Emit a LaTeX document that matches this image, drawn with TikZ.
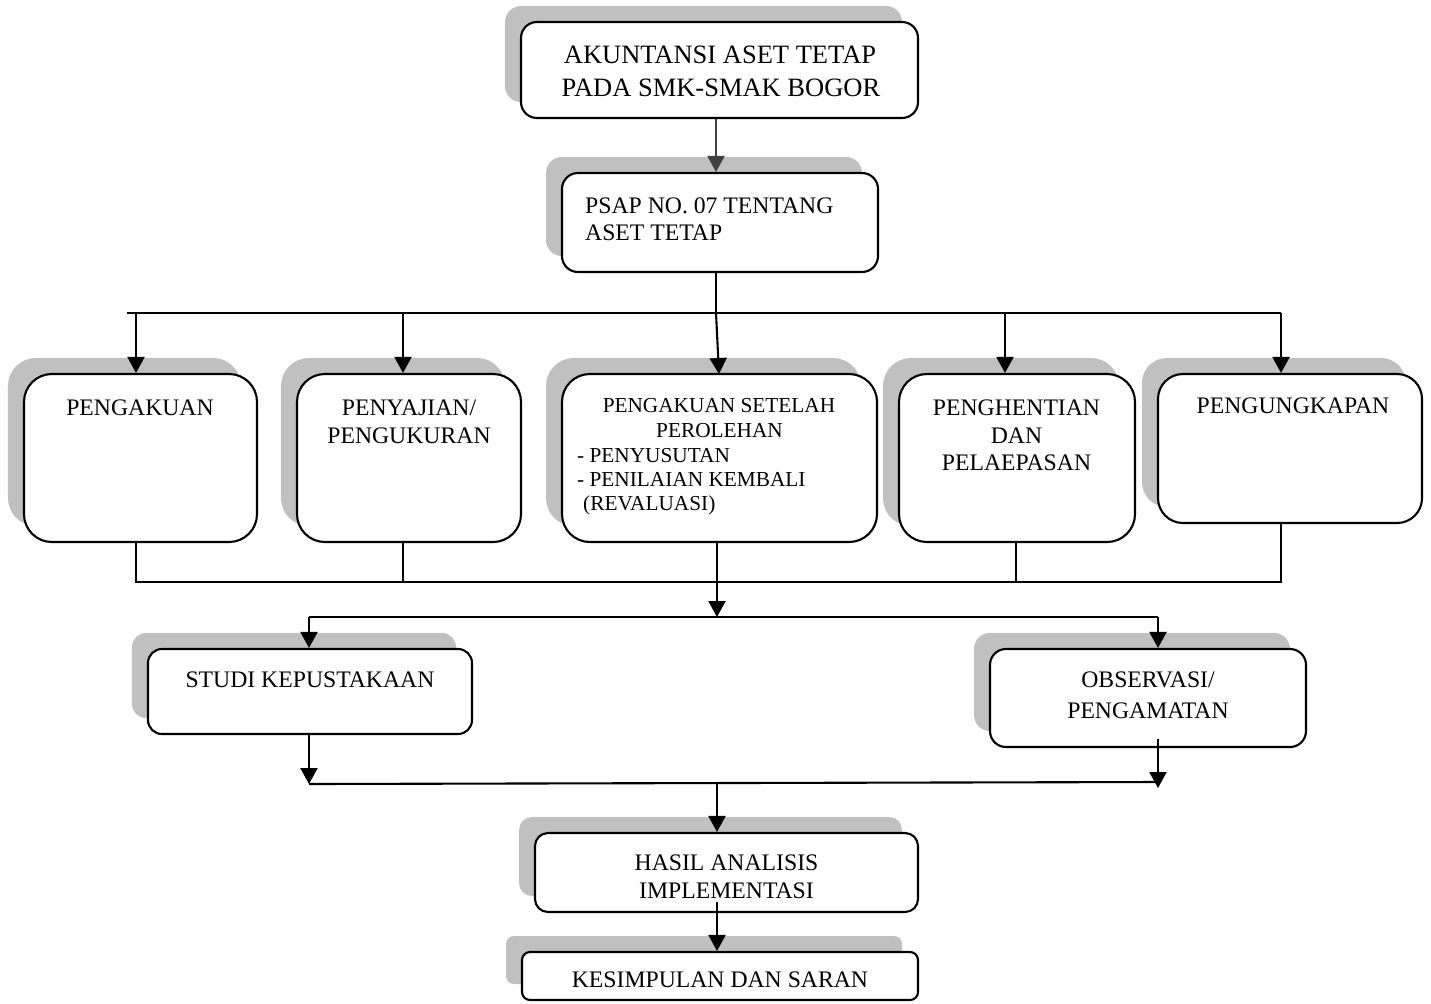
\documentclass[tikz,border=0pt]{standalone}
\usepackage{fontspec}
\setmainfont{Liberation Serif}
\usetikzlibrary{arrows.meta,shadows}
\definecolor{shgray}{RGB}{192,192,192}
\definecolor{arrgray}{RGB}{64,64,64}
\tikzset{
  box/.style={draw, line width=2.1bp, fill=white, rounded corners=#1, inner sep=0pt,
    general shadow={fill=shgray, shadow xshift=-16bp, shadow yshift=16bp}},
  txt/.style={anchor=base, inner sep=0pt, font=\fontsize{23.7bp}{28bp}\selectfont},
  ttl/.style={anchor=base, inner sep=0pt, font=\fontsize{26.5bp}{32bp}\selectfont},
  sml/.style={anchor=base, inner sep=0pt, font=\fontsize{21.3bp}{25bp}\selectfont},
  conn/.style={line width=2.1bp},
  bus/.style={line width=1.7bp},
  arr/.style={line width=2.1bp, -{Triangle[width=17bp,length=16bp]}},
}
\begin{document}
\begin{tikzpicture}[x=1bp,y=-1bp]
\useasboundingbox[fill=white] (0,0) rectangle (1431,1003);

% boxes
\node[box=16, minimum width=397bp, minimum height=96bp]  (b1) at (719.5,70) {};
\node[box=16, minimum width=316bp, minimum height=99bp]  (b2) at (720,222.5) {};
\node[box=28, minimum width=233bp, minimum height=168bp] (p1) at (140.5,458) {};
\node[box=28, minimum width=224bp, minimum height=168bp] (p2) at (409,458) {};
\node[box=28, minimum width=315bp, minimum height=168bp] (p3) at (719.5,458) {};
\node[box=28, minimum width=236bp, minimum height=168bp] (p4) at (1017,458) {};
\node[box=25, minimum width=264bp, minimum height=149bp] (p5) at (1290,448.5) {};
\node[box=14, minimum width=324bp, minimum height=85bp]  (s1) at (310,691.5) {};
\node[box=16, minimum width=316bp, minimum height=98bp]  (o1) at (1148,698) {};
\node[box=13, minimum width=383bp, minimum height=79bp]  (h1) at (726.5,872.5) {};
\node[box=8,  minimum width=396bp, minimum height=48bp]  (k1) at (720,976) {};

% texts
\node[ttl] (b1a) at (720,63) {AKUNTANSI ASET TETAP};
\node[ttl] (b1b) at (721,96) {PADA SMK-SMAK BOGOR};
\node[txt, anchor=base west] (b2a) at (585,213) {PSAP NO. 07 TENTANG};
\node[txt, anchor=base west] (b2b) at (585,240) {ASET TETAP};
\node[txt] (p1a) at (140,415) {PENGAKUAN};
\node[txt] (p2a) at (409,415) {PENYAJIAN/};
\node[txt] (p2b) at (409,443) {PENGUKURAN};
\node[sml] (p3a) at (719,412) {PENGAKUAN SETELAH};
\node[sml] (p3b) at (719.5,437) {PEROLEHAN};
\node[sml, anchor=base west] (p3c) at (577,462) {- PENYUSUTAN};
\node[sml, anchor=base west] (p3d) at (577,486) {- PENILAIAN KEMBALI};
\node[sml, anchor=base west] (p3e) at (583,510) {(REVALUASI)};
\node[txt] (p4a) at (1016.5,415) {PENGHENTIAN};
\node[txt] (p4b) at (1016.5,443) {DAN};
\node[txt] (p4c) at (1016.5,470) {PELAEPASAN};
\node[txt] (p5a) at (1293,413) {PENGUNGKAPAN};
\node[txt] (s1a) at (310,687) {STUDI KEPUSTAKAAN};
\node[txt] (o1a) at (1148,687) {OBSERVASI/};
\node[txt] (o1b) at (1148,718) {PENGAMATAN};
\node[txt] (h1a) at (726.5,870) {HASIL ANALISIS};
\node[txt] (h1b) at (726.5,898) {IMPLEMENTASI};
\node[txt] (k1a) at (720,987) {KESIMPULAN DAN SARAN};

% junction coordinates
\coordinate (busTL) at (127,313);
\coordinate (busTR) at (1281,313);
\coordinate (tb) at (716,313);
\coordinate (t1) at (136,313);
\coordinate (t2) at (403,313);
\coordinate (t3) at (716,313);
\coordinate (t3e) at (719,374);
\coordinate (t4) at (1005,313);
\coordinate (t5) at (1281,313);
\coordinate (u1) at (136,582);
\coordinate (u2) at (403,582);
\coordinate (u3) at (717,582);
\coordinate (u4) at (1016,582);
\coordinate (u5) at (1281,582);
\coordinate (m) at (717,617);
\coordinate (mL) at (309,617);
\coordinate (mR) at (1158,617);
\coordinate (sB) at (309,734);
\coordinate (sT) at (309,784);
\coordinate (oB) at (1158,739);
\coordinate (oT) at (1158,788);
\coordinate (lR) at (1158,782);
\coordinate (lm) at (717,783);
\coordinate (hB) at (717,902);

% connectors
\draw[arr, draw=arrgray, fill=arrgray] (b1.south -| tb) -- (b2.north -| tb);
\draw[conn] (b2.south -| tb) -- (tb);
\draw[conn] (busTL) -- (busTR);
\draw[arr] (t1) -- (t1 |- p1.north);
\draw[arr] (t2) -- (t2 |- p2.north);
\draw[arr] (t3) -- (t3e);
\draw[arr] (t4) -- (t4 |- p4.north);
\draw[arr] (t5) -- (t5 |- p5.north);

\draw[bus] (u1 |- p1.south) -- (u1) -- (u5) -- (u5 |- p5.south);
\draw[bus] (u2 |- p2.south) -- (u2);
\draw[bus] (u4 |- p4.south) -- (u4);
\draw[arr] (u3 |- p3.south) -- (m);
\draw[conn] (mL) -- (mR);
\draw[arr] (mL) -- (mL |- s1.north);
\draw[arr] (mR) -- (mR |- o1.north);
\draw[arr] (sB) -- (sT);
\draw[arr] (oB) -- (oT);
\draw[conn] (sT) -- (lR);
\draw[arr] (lm) -- (lm |- h1.north);
\draw[arr] (hB) -- (hB |- k1.north);
\end{tikzpicture}
\end{document}
